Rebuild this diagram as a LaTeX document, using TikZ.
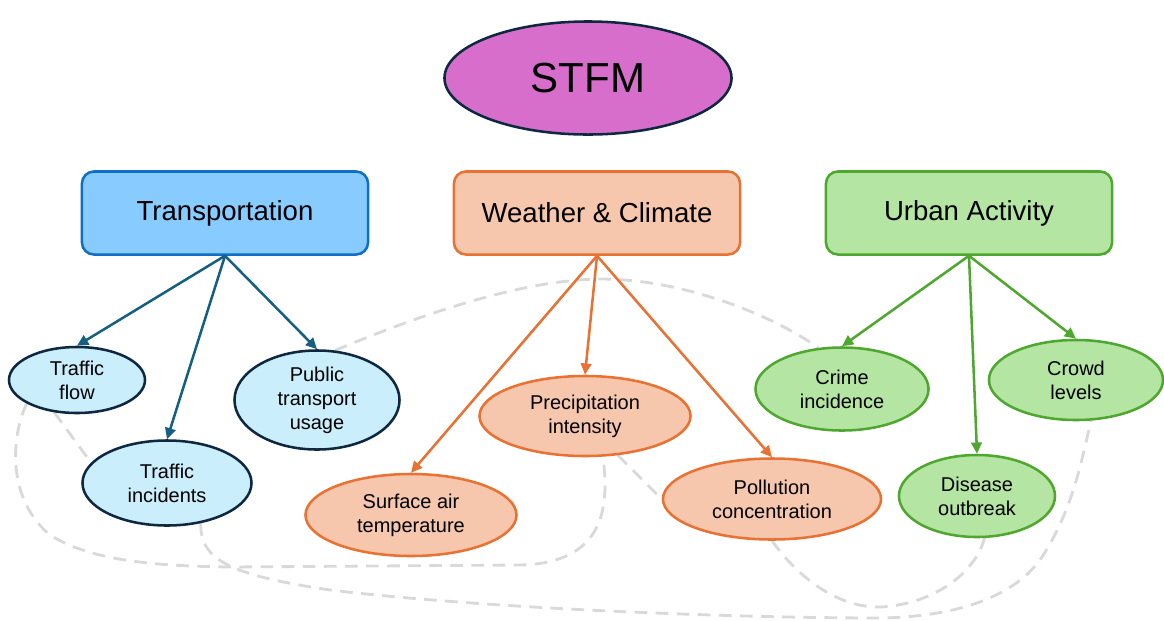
\documentclass[tikz,border=0pt]{standalone}
\usepackage{fontspec}
\setmainfont{Liberation Sans}
\usetikzlibrary{shapes.geometric,arrows.meta}

\definecolor{navy}{HTML}{0E2841}
\definecolor{stfmfill}{HTML}{D86ECC}
\definecolor{transfill}{HTML}{87CBFF}
\definecolor{transdraw}{HTML}{0F6FC6}
\definecolor{transarrow}{HTML}{156082}
\definecolor{leafblue}{HTML}{CAEEFB}
\definecolor{weatherfill}{HTML}{F6C6AD}
\definecolor{weatherdraw}{HTML}{E97132}
\definecolor{urbanfill}{HTML}{B4E5A2}
\definecolor{urbandraw}{HTML}{4EA72E}
\definecolor{linkgray}{HTML}{D9D9D9}

\tikzset{
	catbox/.style={rectangle, rounded corners=8.5pt, line width=1.8pt, minimum width=7.15cm, minimum height=2.075cm, font=\fontsize{19.6}{23}\selectfont},
	leaf/.style={ellipse, line width=1.8pt, inner sep=0pt, align=center, font=\fontsize{14.2}{17.1}\selectfont},
	arr/.style={-{Triangle[length=8pt,width=7.5pt]}, line width=1.8pt},
	link/.style={draw=linkgray, line width=2pt, dash pattern=on 9pt off 6pt}
}

\begin{document}
\begin{tikzpicture}[x=0.025cm, y=-0.025cm]
		\useasboundingbox (0,0) rectangle (1164,620);
		% dashed links (behind the nodes)
		\node [leaf, minimum width=3.4cm, minimum height=1.65cm] (flow) at (77,380) {};
		\node [leaf, minimum width=4.225cm, minimum height=2.125cm] (inc) at (167,483) {};
		\node [leaf, minimum width=4.125cm, minimum height=2.475cm] (pub) at (317,400) {};
		\node [leaf, minimum width=5.275cm, minimum height=2.05cm] (surf) at (411,515) {};
		\node [leaf, minimum width=5.275cm, minimum height=2cm] (prec) at (585,416) {};
		\node [leaf, minimum width=5.45cm, minimum height=2.025cm] (poll) at (772,499) {};
		\node [leaf, minimum width=4.325cm, minimum height=2.075cm] (crime) at (842,389) {};
		\node [leaf, minimum width=3.9cm, minimum height=2.05cm] (dis) at (977,496) {};
		\node [leaf, minimum width=4.35cm, minimum height=2cm] (crowd) at (1076,380) {};
		\draw [link] (pub.70) .. controls (420,315) and (520,280) .. (600,279) .. controls (690,279) and (780,320) .. (crime.120);
		\draw [link] (flow.205) .. controls (10,440) and (8,500) .. (50,535) .. controls (90,560) and (150,566) .. (230,567) -- (520,565) .. controls (610,563) and (608,500) .. (prec.294);
		\draw [link] (flow.235) -- (inc.165);
		\draw [link] (inc.310) .. controls (200,560) and (230,575) .. (330,590) .. controls (500,610) and (750,618) .. (880,618) .. controls (950,617) and (1010,600) .. (1040,560) .. controls (1070,515) and (1080,470) .. (crowd.290);
		\draw [link] (poll.south) .. controls (800,580) and (840,608) .. (880,607) .. controls (930,605) and (975,575) .. (dis.280);
		\draw [link] (prec.310) -- (poll.west);

		\node [ellipse, fill=stfmfill, draw=navy, line width=1.8pt, minimum width=7.175cm, minimum height=2.825cm, font=\fontsize{29.9}{34}\selectfont] (stfm) at (588,78) {STFM};
		\node [catbox, fill=transfill, draw=transdraw] (trans) at (225,213) {Transportation};
		\node [catbox, fill=weatherfill, draw=weatherdraw] (weather) at (597,213) {Weather \& Climate};
		\node [catbox, fill=urbanfill, draw=urbandraw] (urban) at (969,213) {Urban Activity};

		\node [leaf, fill=leafblue, draw=navy, minimum width=3.4cm, minimum height=1.65cm] at (flow) {Traffic\\flow};
		\node [leaf, fill=leafblue, draw=navy, minimum width=4.225cm, minimum height=2.125cm] at (inc) {Traffic\\incidents};
		\node [leaf, fill=leafblue, draw=navy, minimum width=4.125cm, minimum height=2.475cm] at (pub) {Public\\transport\\usage};
		\node [leaf, fill=weatherfill, draw=weatherdraw, minimum width=5.275cm, minimum height=2.05cm] at (surf) {Surface air\\temperature};
		\node [leaf, fill=weatherfill, draw=weatherdraw, minimum width=5.275cm, minimum height=2cm] at (prec) {Precipitation\\intensity};
		\node [leaf, fill=weatherfill, draw=weatherdraw, minimum width=5.45cm, minimum height=2.025cm] at (poll) {Pollution\\concentration};
		\node [leaf, fill=urbanfill, draw=urbandraw, minimum width=4.325cm, minimum height=2.075cm] at (crime) {Crime\\incidence};
		\node [leaf, fill=urbanfill, draw=urbandraw, minimum width=3.9cm, minimum height=2.05cm] at (dis) {Disease\\outbreak};
		\node [leaf, fill=urbanfill, draw=urbandraw, minimum width=4.35cm, minimum height=2cm] at (crowd) {Crowd\\levels};

		\draw [arr, transarrow] (trans.south) -- (flow.north);
		\draw [arr, transarrow] (trans.south) -- (inc.north);
		\draw [arr, transarrow] (trans.south) -- (pub.north);
		\draw [arr, weatherdraw] (weather.south) -- (surf.north);
		\draw [arr, weatherdraw] (weather.south) -- (prec.north);
		\draw [arr, weatherdraw] (weather.south) -- (poll.north);
		\draw [arr, urbandraw] (urban.south) -- (crime.north);
		\draw [arr, urbandraw] (urban.south) -- (dis.north);
		\draw [arr, urbandraw] (urban.south) -- (crowd.north);
\end{tikzpicture}
\end{document}
